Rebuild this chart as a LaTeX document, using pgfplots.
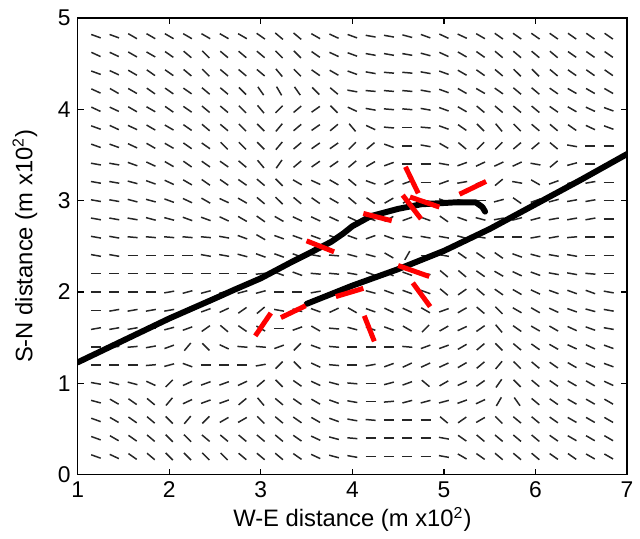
\documentclass[border=0pt]{standalone}
\usepackage{fontspec}
\setmainfont{Liberation Sans}
\usepackage{pgfplots}
\usepackage{pgfplotstable}
\pgfplotsset{compat=1.18}

\begin{document}
% direction field: one row per y, angle (deg) of the segment at x = 1.2, 1.4, ..., 6.8
\pgfplotstableread{
y a1 a2 a3 a4 a5 a6 a7 a8 a9 a10 a11 a12 a13 a14 a15 a16 a17 a18 a19 a20 a21 a22 a23 a24 a25 a26 a27 a28 a29
4.8 -20 -20 -30 -30 -30 -30 -30 -30 -30 -35 -40 -40 -30 -25 -20 -10 -10 -15 -20 -25 -25 -30 -35 -35 -35 -35 -35 -35 -35
4.6 -25 -25 -30 -30 -35 -40 -45 -40 -40 -40 -45 -45 -35 -25 -20 -10 -10 -10 -15 -25 -30 -35 -40 -40 -40 -40 -35 -35 -35
4.4 -20 -25 -30 -35 -35 -40 -45 -40 -40 -40 -50 -45 -35 -30 -20 -10 -5 -5 -10 -20 -30 -35 -40 -45 -45 -40 -35 -35 -35
4.2 -25 -30 -30 -35 -35 -35 -40 -40 -45 -55 -60 -55 -45 -40 -10 -5 -5 -5 -10 -20 -30 -30 -35 -40 -40 -35 -30 -30 -30
4.0 -25 -25 -30 -30 -35 -35 -40 -40 -45 -50 45 40 35 -45 -25 -10 -5 -5 -10 -20 -30 -40 -40 -40 -40 -35 -30 -25 -20
3.8 -20 -25 -25 -30 -30 -35 -40 -40 -45 -45 50 40 35 40 -50 -25 -5 0 -5 -20 -35 -45 -50 -45 -40 -40 -35 -25 -20
3.6 -20 -20 -25 -30 -30 -35 -35 -45 -45 -45 50 40 35 35 45 40 -20 0 -10 -30 -40 45 45 40 40 -40 -10 0 0
3.4 -10 -10 -20 -25 -30 -35 -35 -35 -40 -50 55 40 35 35 40 30 20 0 0 -10 20 25 25 25 -10 40 15 0 5
3.2 -10 -10 -15 -20 -25 -30 -35 -35 -35 -40 -45 -30 -25 -30 -40 -20 25 20 0 20 10 20 40 -10 -30 20 15 10 0
3.0 -10 -10 -15 -15 -20 -25 -30 -25 -30 -40 -45 -40 -35 -30 -40 -35 30 30 -10 -20 -10 0 15 -35 20 15 10 10 0
2.8 -10 -10 -10 -15 -15 -20 -20 -25 -30 -35 -30 -25 -25 -25 -25 -20 30 20 -20 -35 -20 -15 10 15 15 10 10 10 0
2.6 -10 -10 -5 -5 -5 -5 -5 -10 -20 -30 -20 -20 -20 -20 -20 20 -20 -10 -10 -10 -15 -10 0 0 10 10 5 0 0
2.4 -10 -10 0 0 0 0 -10 -10 -15 -20 -20 -20 -10 -5 -15 -15 -30 60 0 -10 -35 -35 -35 -20 -15 -10 -10 0 0
2.2 0 0 0 0 0 0 0 0 0 5 -20 -20 -5 -5 -10 -20 -25 -20 -10 -40 -40 -35 -30 -25 -20 -10 -10 -5 0
2.0 0 0 0 0 10 15 15 15 15 15 0 0 10 15 15 -15 -20 -20 -20 -40 35 -40 -35 -30 -25 -20 -20 -20 -10
1.8 0 10 10 10 10 15 20 25 35 40 -10 -15 -20 25 -30 -20 -25 -25 -30 20 30 -40 -45 -30 -30 -25 -20 -15 -10
1.6 10 10 10 5 15 20 35 -40 -35 -30 0 20 -30 -5 -15 -20 -20 -30 45 30 25 35 -50 -35 -30 -30 -25 -20 -10
1.4 0 5 5 10 20 50 -45 -25 -5 -5 20 45 -20 -5 0 0 0 -5 20 20 30 40 -45 -40 -35 -30 -25 -25 -20
1.2 0 0 0 5 15 -20 0 0 0 10 45 -45 -25 -5 0 10 20 25 25 25 30 40 50 -45 -40 -35 -30 -25 -20
1.0 -10 -15 -15 -25 45 25 20 20 25 40 -45 -35 -25 -15 -5 0 15 20 -40 30 25 35 55 -45 -40 -35 -30 -30 -25
0.8 -15 -30 -35 -40 50 25 20 20 40 -50 -40 -35 -30 -20 -10 0 5 15 15 15 20 25 60 -55 -40 -35 -30 -30 -30
0.6 -20 -30 -35 -40 -45 50 45 30 30 -45 -40 -35 -30 -20 -10 -5 0 0 0 -40 35 30 -45 -40 -40 -35 -30 -30 -30
0.4 -20 -30 -35 -40 -45 -45 -40 -40 -40 -40 -40 -35 -25 -15 -5 0 0 0 0 -10 -35 -40 -40 -40 -40 -35 -30 -30 -30
0.2 -20 -25 -35 -40 -45 -45 -45 -45 -40 -40 -40 -35 -25 -15 -10 0 0 0 0 -10 -30 -35 -40 -40 -40 -35 -35 -30 -30
}\field

% red segments: start point and offset
\pgfplotstableread{
x y u v
2.94 1.52 0.17 0.25
3.22 1.72 0.27 0.13
3.82 1.95 0.30 0.09
4.13 1.74 0.11 -0.28
4.50 2.29 0.34 -0.12
4.66 2.10 0.19 -0.26
3.50 2.56 0.30 -0.12
4.12 2.86 0.31 -0.08
4.58 3.37 0.14 -0.29
4.55 3.06 0.20 -0.26
4.63 3.04 0.32 -0.11
5.17 3.07 0.29 0.14
}\redsegs

\begin{tikzpicture}
\begin{axis}[
    scale only axis,
    width=276bp, height=229.5bp,
    xmin=1, xmax=7, ymin=0, ymax=5,
    xtick={1,...,7}, ytick={0,...,5},
    tick align=inside,
    major tick length=3bp,
    axis line style={line width=0.6bp},
    every tick/.style={black, line width=0.6bp},
    /pgf/number format/assume math mode=true,
    tick label style={font=\fontsize{11.5}{13}\selectfont},
    label style={font=\fontsize{12}{14}\selectfont},
    xlabel={W-E distance (m x10\textsuperscript{2})},
    ylabel={S-N distance (m x10\textsuperscript{2})},
    xlabel style={at={(axis description cs:0.5,0)}, anchor=center, yshift=-22.5bp},
    ylabel style={at={(axis description cs:0,0.5)}, anchor=center, yshift=26.5bp},
]
\pgfplotsinvokeforeach{1,...,29}{
  \addplot[black!85, line width=0.75bp,
    quiver={u={0.11*cos(\thisrow{a#1})}, v={0.11*sin(\thisrow{a#1})}}]
    table[x expr={1+0.2*#1-0.055*cos(\thisrow{a#1})},
          y expr={\thisrow{y}-0.055*sin(\thisrow{a#1})}] {\field};
}

\addplot[black, line width=3bp, line cap=round, line join=round] coordinates {
  (1.0,1.23) (1.5,1.47) (2.0,1.71) (2.5,1.93) (2.7,2.02) (3.0,2.15)
  (3.34,2.33) (3.5,2.41) (3.77,2.55) (3.9,2.64) (4.0,2.72) (4.2,2.83)
  (4.5,2.91) (4.75,2.96) (5.1,2.98) (5.35,2.98) (5.42,2.93) (5.45,2.88)
};
\addplot[black, line width=3bp, line cap=round, line join=round] coordinates {
  (3.5,1.87) (4.0,2.07) (4.5,2.25) (5.0,2.45) (5.5,2.69) (6.0,2.96) (6.5,3.23) (7.0,3.51)
};

\addplot[red, line width=2.5bp, quiver={u=\thisrow{u}, v=\thisrow{v}}]
  table[x=x, y=y] {\redsegs};
\end{axis}
\path (current axis.south west) ++(-39bp,-30bp);
\path (current axis.north east) ++(5bp,9bp);
\end{tikzpicture}
\end{document}
